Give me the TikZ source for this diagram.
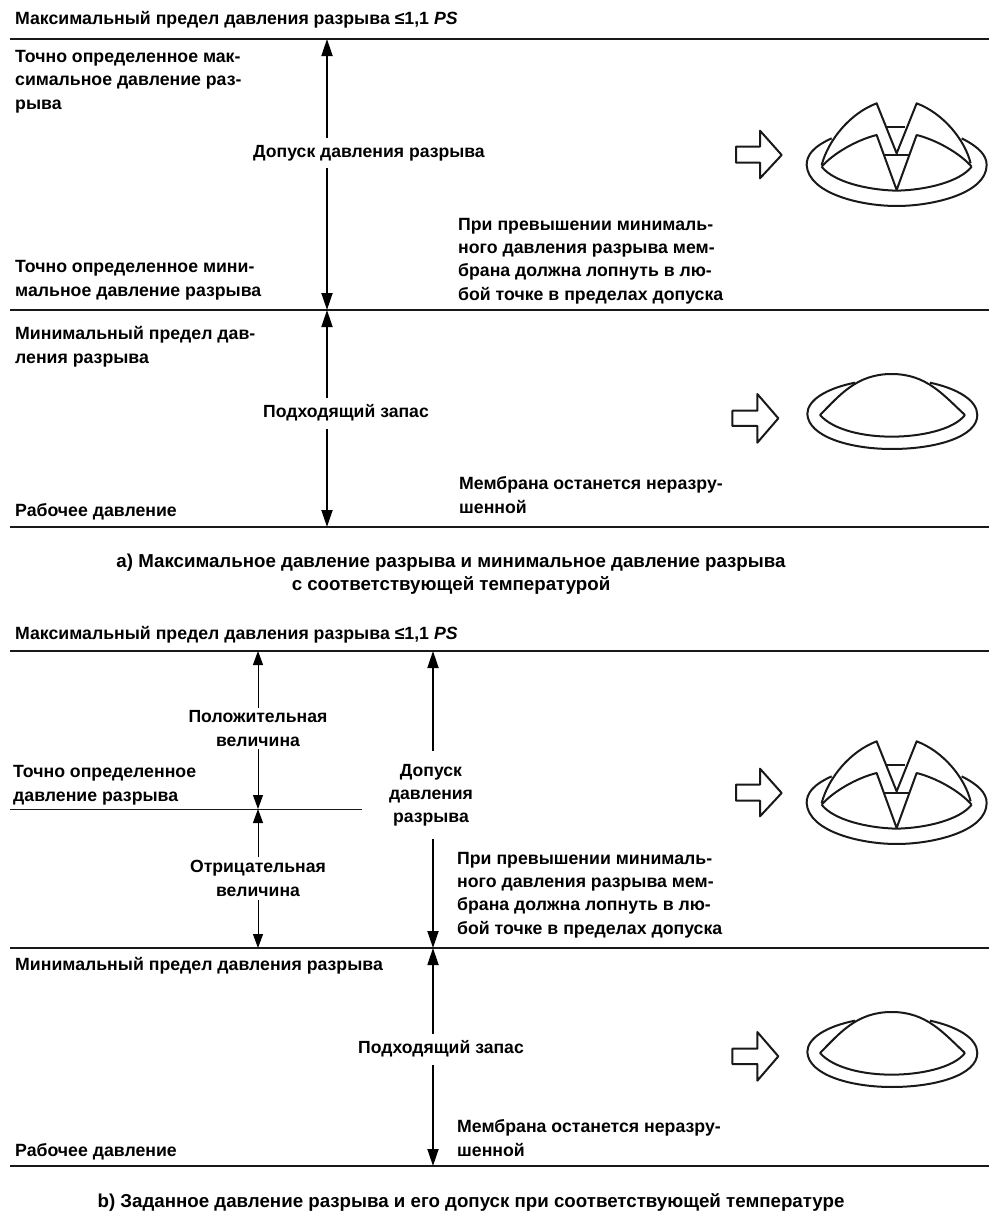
\documentclass[tikz,border=0pt]{standalone}
\usepackage{fontspec}
\setmainfont{Liberation Sans}
\usetikzlibrary{arrows.meta}
\tikzset{
 x=1pt,y=-1pt,
 lbl/.style={inner sep=0pt,font=\bfseries\fontsize{17.7}{23.2}\selectfont,align=left,anchor=base west},
 ctr/.style={inner xsep=2pt,inner ysep=7pt,font=\bfseries\fontsize{17.6}{23.2}\selectfont,align=center,anchor=center},
 capt/.style={inner sep=0pt,font=\bfseries\fontsize{18.7}{23.6}\selectfont,align=center,anchor=center},
 hl/.style={line width=2pt,black!90},
 hlthin/.style={line width=1pt,black!90},
 dimthick/.style={line width=1.8pt,-{Triangle[length=17pt,width=11pt]}},
 dimthin/.style={line width=1pt,-{Triangle[length=14pt,width=10pt]}},
 domeline/.style={line width=2pt,line join=round,black!90},
}
\newcommand{\burstdome}[2]{%
\begin{scope}[shift={(#1,#2)},x=0.3333pt,y=-0.3333pt,domeline]
 \draw (108,140)--(180,140)--(180,92)--(245,165)--(180,235)--(180,188)--(108,188)--cycle;
 \draw (395,115) .. controls (340,140) and (320,165) .. (320,195) .. controls (325,280) and (480,318) .. (590,318) .. controls (700,318) and (860,280) .. (860,195) .. controls (860,165) and (835,140) .. (785,115);
 \draw (365,200) .. controls (400,160) and (470,120) .. (530,105) -- (590,270) -- (650,105) .. controls (710,120) and (780,160) .. (815,200);
 \draw (365,200) .. controls (400,245) and (500,270) .. (590,272) .. controls (680,270) and (780,245) .. (815,200);
 \draw (365,195) .. controls (385,120) and (450,40) .. (530,10) -- (590,160) -- (650,10) .. controls (730,40) and (795,120) .. (812,190);
 \draw (560,80)--(615,80);
 \draw (552,165)--(628,165);
\end{scope}}
\newcommand{\wholedome}[2]{%
\begin{scope}[shift={(#1,#2)},x=0.3333pt,y=-0.3333pt,domeline]
 \draw (97,182)--(172,182)--(172,132)--(235,205)--(172,278)--(172,228)--(97,228)--cycle;
 \draw (465,98) .. controls (380,115) and (322,150) .. (322,192) .. controls (325,260) and (450,297) .. (575,297) .. controls (710,297) and (832,260) .. (832,195) .. controls (832,150) and (770,115) .. (690,98);
 \draw (360,195) .. controls (420,135) and (470,72) .. (575,72) .. controls (680,72) and (730,135) .. (795,195);
 \draw (360,195) .. controls (400,240) and (490,260) .. (575,260) .. controls (660,260) and (760,240) .. (795,195);
\end{scope}}
\begin{document}
\begin{tikzpicture}
\useasboundingbox[fill=white] (0,0) rectangle (989,1211);
% horizontal levels
\coordinate (a0L) at (10,39); \coordinate (a0R) at (989,39);
\coordinate (a1L) at (10,310); \coordinate (a1R) at (989,310);
\coordinate (a2L) at (10,527); \coordinate (a2R) at (989,527);
\coordinate (b0L) at (10,651); \coordinate (b0R) at (989,651);
\coordinate (bmL) at (10,809); \coordinate (bmR) at (362,809);
\coordinate (b1L) at (10,948); \coordinate (b1R) at (989,948);
\coordinate (b2L) at (10,1166); \coordinate (b2R) at (989,1166);
\draw[hl] (a0L)--(a0R); \draw[hl] (a1L)--(a1R); \draw[hl] (a2L)--(a2R);
\draw[hl] (b0L)--(b0R); \draw[hlthin] (bmL)--(bmR); \draw[hl] (b1L)--(b1R); \draw[hl] (b2L)--(b2R);
% arrow anchors
\coordinate (A1t) at (327,39); \coordinate (A1b) at (327,310);
\coordinate (A2t) at (327,310); \coordinate (A2b) at (327,527);
\coordinate (B1t) at (258,651); \coordinate (B1b) at (258,809);
\coordinate (B2t) at (258,809); \coordinate (B2b) at (258,948);
\coordinate (B3t) at (433,651); \coordinate (B3b) at (433,948);
\coordinate (B4t) at (433,948); \coordinate (B4b) at (433,1166);
% texts part a
\node[lbl] (t1) at (15,24) {Максимальный предел давления разрыва ≤1,1 \textit{PS}};
\node[lbl] (t2) at (15,109) {Точно определенное мак-\\симальное давление раз-\\рыва};
\node[ctr] (t3) at (369,153) {Допуск давления разрыва};
\node[lbl] (t4) at (15,296) {Точно определенное мини-\\мальное давление разрыва};
\node[lbl] (t5) at (458,300) {При превышении минималь-\\ного давления разрыва мем-\\брана должна лопнуть в лю-\\бой точке в пределах допуска};
\node[lbl] (t6) at (15,363) {Минимальный предел дав-\\ления разрыва};
\node[ctr] (t7) at (346,413) {Подходящий запас};
\node[lbl] (t8) at (459,513) {Мембрана останется неразру-\\шенной};
\node[lbl] (t9) at (15,516) {Рабочее давление};
\node[capt] (t10) at (451,574) {а) Максимальное давление разрыва и минимальное давление разрыва\\с соответствующей температурой};
% texts part b
\node[lbl] (u1) at (15,639) {Максимальный предел давления разрыва ≤1,1 \textit{PS}};
\node[ctr,inner ysep=3pt] (u2) at (258,728.5) {Положительная\\величина};
\node[lbl] (u3) at (13,801) {Точно определенное\\давление разрыва};
\node[ctr,inner ysep=3pt] (u4) at (258,878.5) {Отрицательная\\величина};
\node[ctr,inner ysep=13pt] (u5) at (431,795) {Допуск\\давления\\разрыва};
\node[lbl] (u6) at (457,934) {При превышении минималь-\\ного давления разрыва мем-\\брана должна лопнуть в лю-\\бой точке в пределах допуска};
\node[lbl] (u7) at (15,970) {Минимальный предел давления разрыва};
\node[ctr] (u8) at (441,1049) {Подходящий запас};
\node[lbl] (u9) at (457,1156) {Мембрана останется неразру-\\шенной};
\node[lbl] (u10) at (15,1156) {Рабочее давление};
\node[capt] (u11) at (471,1202) {b) Заданное давление разрыва и его допуск при соответствующей температуре};
% arrows
\draw[dimthick] (t3.north -| A1t) -- (A1t);
\draw[dimthick] (t3.south -| A1b) -- (A1b);
\draw[dimthick] (t7.north -| A2t) -- (A2t);
\draw[dimthick] (t7.south -| A2b) -- (A2b);
\draw[dimthin] (u2.north -| B1t) -- (B1t);
\draw[dimthin] (u2.south -| B1b) -- (B1b);
\draw[dimthin] (u4.north -| B2t) -- (B2t);
\draw[dimthin] (u4.south -| B2b) -- (B2b);
\draw[dimthick] (u5.north -| B3t) -- (B3t);
\draw[dimthick] (u5.south -| B3b) -- (B3b);
\draw[dimthick] (u8.north -| B4t) -- (B4t);
\draw[dimthick] (u8.south -| B4b) -- (B4b);
% domes
\burstdome{700}{100}
\wholedome{700}{350}
\burstdome{700}{738}
\wholedome{700}{988}
\end{tikzpicture}
\end{document}
